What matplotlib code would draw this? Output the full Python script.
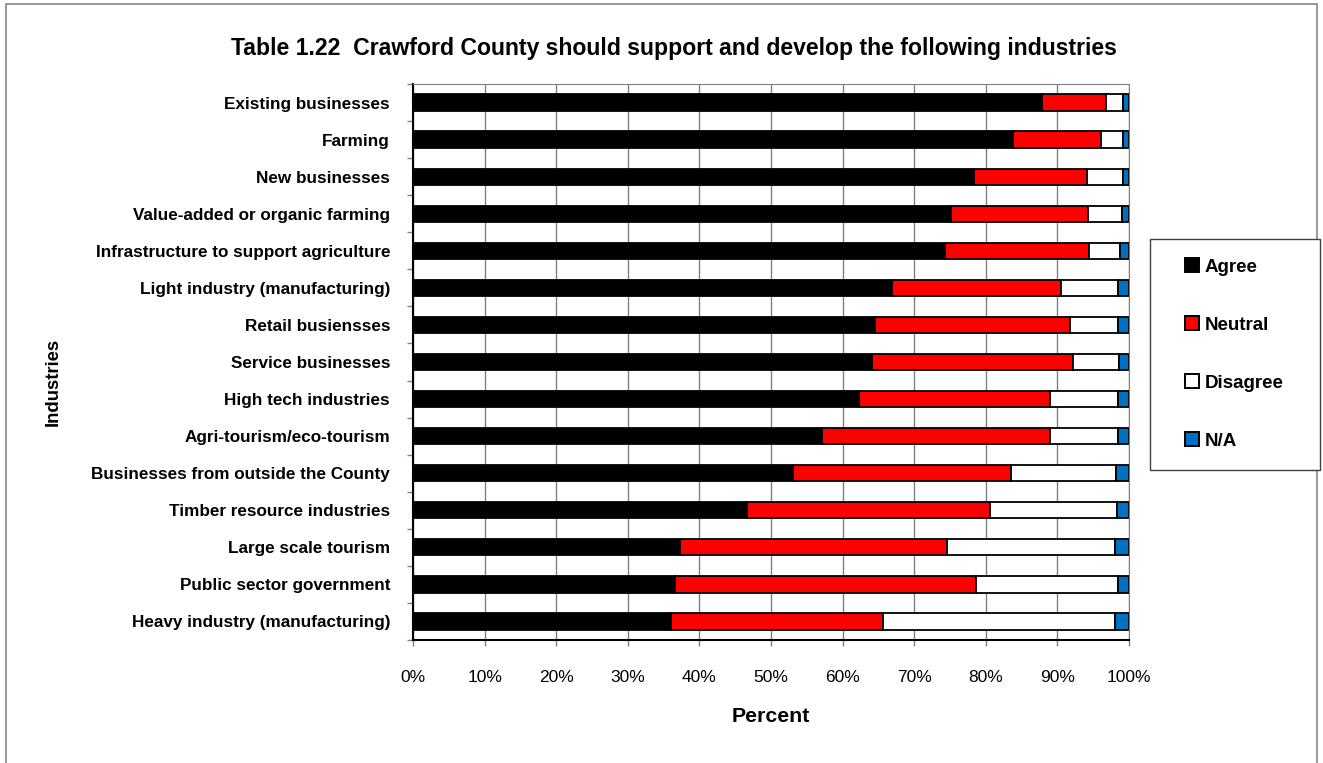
import matplotlib.pyplot as plt
from matplotlib.lines import Line2D
from matplotlib.patches import Rectangle
from matplotlib.ticker import FixedLocator, PercentFormatter
import numpy as np

plt.rcParams['font.family'] = ['Liberation Sans', 'DejaVu Sans']

industries = [
    'Existing businesses', 'Farming', 'New businesses',
    'Value-added or organic farming', 'Infrastructure to support agriculture',
    'Light industry (manufacturing)', 'Retail busiensses', 'Service businesses',
    'High tech industries', 'Agri-tourism/eco-tourism',
    'Businesses from outside the County', 'Timber resource industries',
    'Large scale tourism', 'Public sector government',
    'Heavy industry (manufacturing)',
]
agree = [87.9, 83.8, 78.4, 75.2, 74.3, 66.9, 64.5, 64.1, 62.3, 57.1, 53.1, 46.7, 37.3, 36.6, 36.1]
neutral = [8.9, 12.3, 15.7, 19.1, 20.1, 23.6, 27.3, 28.1, 26.7, 31.9, 30.4, 33.9, 37.3, 42.1, 29.6]
disagree = [2.3, 3.0, 5.1, 4.7, 4.4, 8.0, 6.7, 6.4, 9.5, 9.5, 14.7, 17.7, 23.5, 19.7, 32.4]
na = [0.9, 0.9, 0.8, 1.0, 1.2, 1.5, 1.5, 1.4, 1.5, 1.5, 1.8, 1.7, 1.9, 1.6, 1.9]

series = [('Agree', agree, '#000000'), ('Neutral', neutral, '#ff0000'),
          ('Disagree', disagree, '#ffffff'), ('N/A', na, '#0070c0')]

W, H = 1323, 763
fig = plt.figure(figsize=(W / 100, H / 100), dpi=100)
ax = fig.add_axes([413 / W, 1 - 640 / H, (1129 - 413) / W, (640 - 84) / H])

y = np.arange(len(industries))
left = np.zeros(len(industries))
for name, vals, col in series:
    vals = np.array(vals)
    ax.barh(y, vals, left=left, height=0.44, color=col, edgecolor='black',
            linewidth=1.3, zorder=3)
    left += vals

ax.set_xlim(0, 100)
ax.set_ylim(len(industries) - 0.5, -0.5)
ax.xaxis.set_major_locator(FixedLocator(np.arange(0, 101, 10)))
ax.xaxis.set_major_formatter(PercentFormatter(decimals=0))
ax.grid(axis='x', color='#808080', linewidth=1, zorder=0)

ax.set_yticks(y)
ax.set_yticklabels(industries, fontsize=12.3, fontweight='bold')
ax.yaxis.set_minor_locator(FixedLocator(np.arange(-0.5, len(industries), 1)))
ax.tick_params(axis='y', which='major', length=0, pad=16.5)
ax.tick_params(axis='y', which='minor', length=4.5, width=1, color='#808080')
ax.tick_params(axis='x', length=4.5, width=1, color='#808080', labelsize=12.5, pad=17)

for s in ['top', 'right']:
    ax.spines[s].set_color('#808080')
for s in ['left', 'bottom']:
    ax.spines[s].set_color('black')
    ax.spines[s].set_linewidth(1.5)

fig.text(674 / W, 1 - 48 / H, 'Table 1.22  Crawford County should support and develop the following industries',
         ha='center', va='center', fontsize=16.6, fontweight='bold')
fig.text(771 / W, 1 - 717 / H, 'Percent', ha='center', va='center',
         fontsize=15.3, fontweight='bold')
fig.text(53 / W, 1 - 382 / H, 'Industries', ha='center', va='center',
         rotation=90, fontsize=13.3, fontweight='bold')

handles = [Line2D([], [], marker='s', linestyle='none', markersize=10,
                  markerfacecolor=col, markeredgecolor='black', markeredgewidth=1.4)
           for _, _, col in series]
fs = 13.5
leg = fig.legend(handles, [s[0] for s in series],
                 bbox_to_anchor=(1150 / W, 1 - 468 / H, 170 / W, 229 / H),
                 loc='upper left', mode='expand', borderaxespad=0,
                 prop={'size': fs, 'weight': 'bold'}, labelspacing=2.18,
                 borderpad=1.05, handlelength=2.38, handletextpad=-0.5,
                 fancybox=False, framealpha=1)
leg.get_frame().set_edgecolor('#404040')
leg.get_frame().set_linewidth(1)

fig.patches.append(Rectangle((6 / W, -0.01), (1317 - 6) / W, 1.01 - 4 / H,
                             transform=fig.transFigure, fill=False,
                             edgecolor='#868686', linewidth=1.2))

fig.savefig('out.png', dpi=100)
